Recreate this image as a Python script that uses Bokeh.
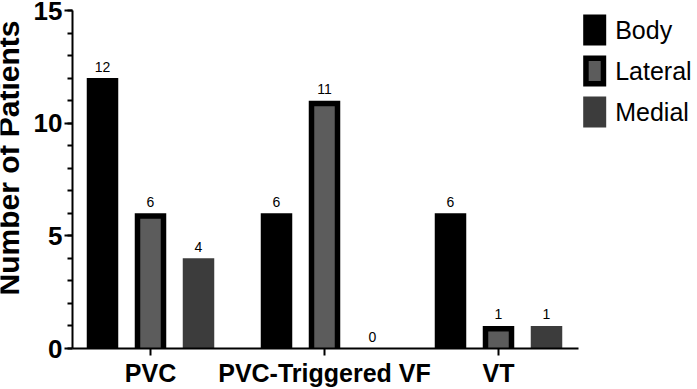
import math
import numpy as np
from bokeh.plotting import figure
from bokeh.models import (Range1d, FixedTicker, ColumnDataSource, LabelSet,
                          Label)
from bokeh.core.properties import value
from bokeh.embed import file_html
from bokeh.resources import INLINE

# Patient counts per arrhythmia type and site of origin
groups = ["PVC", "PVC-Triggered VF", "VT"]
body = [12, 6, 6]
lateral = [6, 11, 1]
medial = [4, 0, 1]
series_names = ["Body", "Lateral", "Medial"]

BODY_COLOR = "#000000"
LATERAL_COLOR = "#5c5c5c"
MEDIAL_COLOR = "#3c3c3c"
FONT = "Liberation Sans"

# Layout in pixels; the plotting frame covers the whole canvas and both
# axes are pinned inside it
W, H = 697, 389
AXIS_X_PX = 72              # y axis position
AXIS_Y_PX = 348             # x axis position (value 0)
TOP_PX = 10                 # position of value 15
AXIS_END_PX = 578           # x axis line stops here
GROUP_PX = 174.0            # distance between group centres
FIRST_GROUP_PX = 150.0      # centre of the first group
BAR_STEP_PX = 48.0          # distance between bars of one group
BAR_OUTER_PX = 31.5         # outer width of a bar
EDGE_PX = 5.5               # outline thickness of the Lateral bars

y_max = 15
px_per_y = (AXIS_Y_PX - TOP_PX) / y_max


def px_to_x(px):
    return (px - FIRST_GROUP_PX) / GROUP_PX


def px_to_y(py):
    return (AXIS_Y_PX - py) / px_per_y


p = figure(width=W, height=H, output_backend="svg", toolbar_location=None,
           x_range=Range1d(px_to_x(0), px_to_x(W)),
           y_range=Range1d(px_to_y(H), px_to_y(0)))
p.min_border = 0
p.outline_line_color = None
p.xgrid.visible = False
p.ygrid.visible = False
p.background_fill_color = "white"
p.border_fill_color = "white"

gx = np.arange(len(groups), dtype=float)
bar_step = BAR_STEP_PX / GROUP_PX
outer_w = BAR_OUTER_PX / GROUP_PX
inner_w = (BAR_OUTER_PX - 2 * EDGE_PX) / GROUP_PX
edge_y = EDGE_PX / px_per_y

x_body = gx - bar_step
x_lat = gx
x_med = gx + bar_step

# Bars
p.vbar(x=x_body, top=body, bottom=0, width=outer_w,
       fill_color=BODY_COLOR, line_color=None)
p.vbar(x=x_lat, top=lateral, bottom=0, width=outer_w,
       fill_color="black", line_color=None)
p.vbar(x=x_lat, top=[max(v - edge_y, 0) for v in lateral], bottom=0,
       width=inner_w, fill_color=LATERAL_COLOR, line_color=None)
p.vbar(x=x_med, top=medial, bottom=0, width=outer_w,
       fill_color=MEDIAL_COLOR, line_color=None)

# Value labels above the bars
lab_x = list(x_body) + list(x_lat) + list(x_med)
lab_y = body + lateral + medial
lab_src = ColumnDataSource(dict(x=lab_x, y=lab_y, t=[str(v) for v in lab_y]))
p.add_layout(LabelSet(x="x", y="y", text="t", source=lab_src,
                      text_align="center", text_baseline="alphabetic",
                      y_offset=6.5, text_font=value(FONT),
                      text_font_size=value("14px"), text_color=value("black")))

# Axes
for ax in (p.xaxis[0], p.yaxis[0]):
    ax.axis_line_width = 2
    ax.axis_line_color = "black"
    ax.major_tick_line_width = 2
    ax.major_tick_line_color = "black"
    ax.major_tick_in = 0
    ax.minor_tick_in = 0
    ax.major_label_text_font = FONT
    ax.major_label_text_font_style = "bold"
    ax.major_label_text_color = "black"

p.yaxis.fixed_location = px_to_x(AXIS_X_PX)
p.yaxis.bounds = (0, y_max)
p.yaxis.ticker = FixedTicker(ticks=[0, 5, 10, 15], minor_ticks=list(range(16)))
p.yaxis.major_tick_out = 8
p.yaxis.minor_tick_out = 5
p.yaxis.minor_tick_line_width = 2
p.yaxis.minor_tick_line_color = "black"
p.yaxis.major_label_text_font_size = "26px"
p.yaxis.major_label_standoff = 2

p.xaxis.fixed_location = 0
p.xaxis.bounds = (px_to_x(AXIS_X_PX), px_to_x(AXIS_END_PX))
p.xaxis.ticker = FixedTicker(ticks=list(gx), minor_ticks=[])
p.xaxis.major_label_overrides = {float(i): g for i, g in zip(gx, groups)}
p.xaxis.major_label_overrides.update({int(i): g for i, g in zip(gx, groups)})
p.xaxis.major_tick_out = 7
p.xaxis.minor_tick_line_color = None
p.xaxis.major_label_text_font_size = "25px"
p.xaxis.major_label_standoff = 3

# Y axis title
p.add_layout(Label(x=8, y=H - 157.5, x_units="screen", y_units="screen",
                   text="Number of Patients", angle=math.pi / 2,
                   text_align="center", text_baseline="alphabetic",
                   text_font=FONT, text_font_style="bold",
                   text_font_size="30px", text_color="black"))

# Legend: swatches and names at the upper right
LEG_LEFT, LEG_W, LEG_H, LEG_TOP, LEG_PITCH = 582.7, 23.0, 31.0, 14.0, 41.0
leg_fill = [BODY_COLOR, "black", MEDIAL_COLOR]
tops = [LEG_TOP + i * LEG_PITCH for i in range(len(series_names))]
p.quad(left=px_to_x(LEG_LEFT), right=px_to_x(LEG_LEFT + LEG_W),
       top=[px_to_y(t) for t in tops],
       bottom=[px_to_y(t + LEG_H) for t in tops],
       fill_color=leg_fill, line_color=None)
# grey core of the Lateral swatch
p.quad(left=px_to_x(LEG_LEFT + EDGE_PX), right=px_to_x(LEG_LEFT + LEG_W - EDGE_PX),
       top=px_to_y(tops[1] + EDGE_PX), bottom=px_to_y(tops[1] + LEG_H - EDGE_PX),
       fill_color=LATERAL_COLOR, line_color=None)
p.text(x=px_to_x(LEG_LEFT + LEG_W + 9), y=[px_to_y(t + LEG_H / 2) for t in tops],
       text=series_names, text_align="left", text_baseline="middle",
       text_font=value(FONT), text_font_size=value("25px"),
       text_color="black")

open("out.html", "w").write(file_html(p, INLINE))
